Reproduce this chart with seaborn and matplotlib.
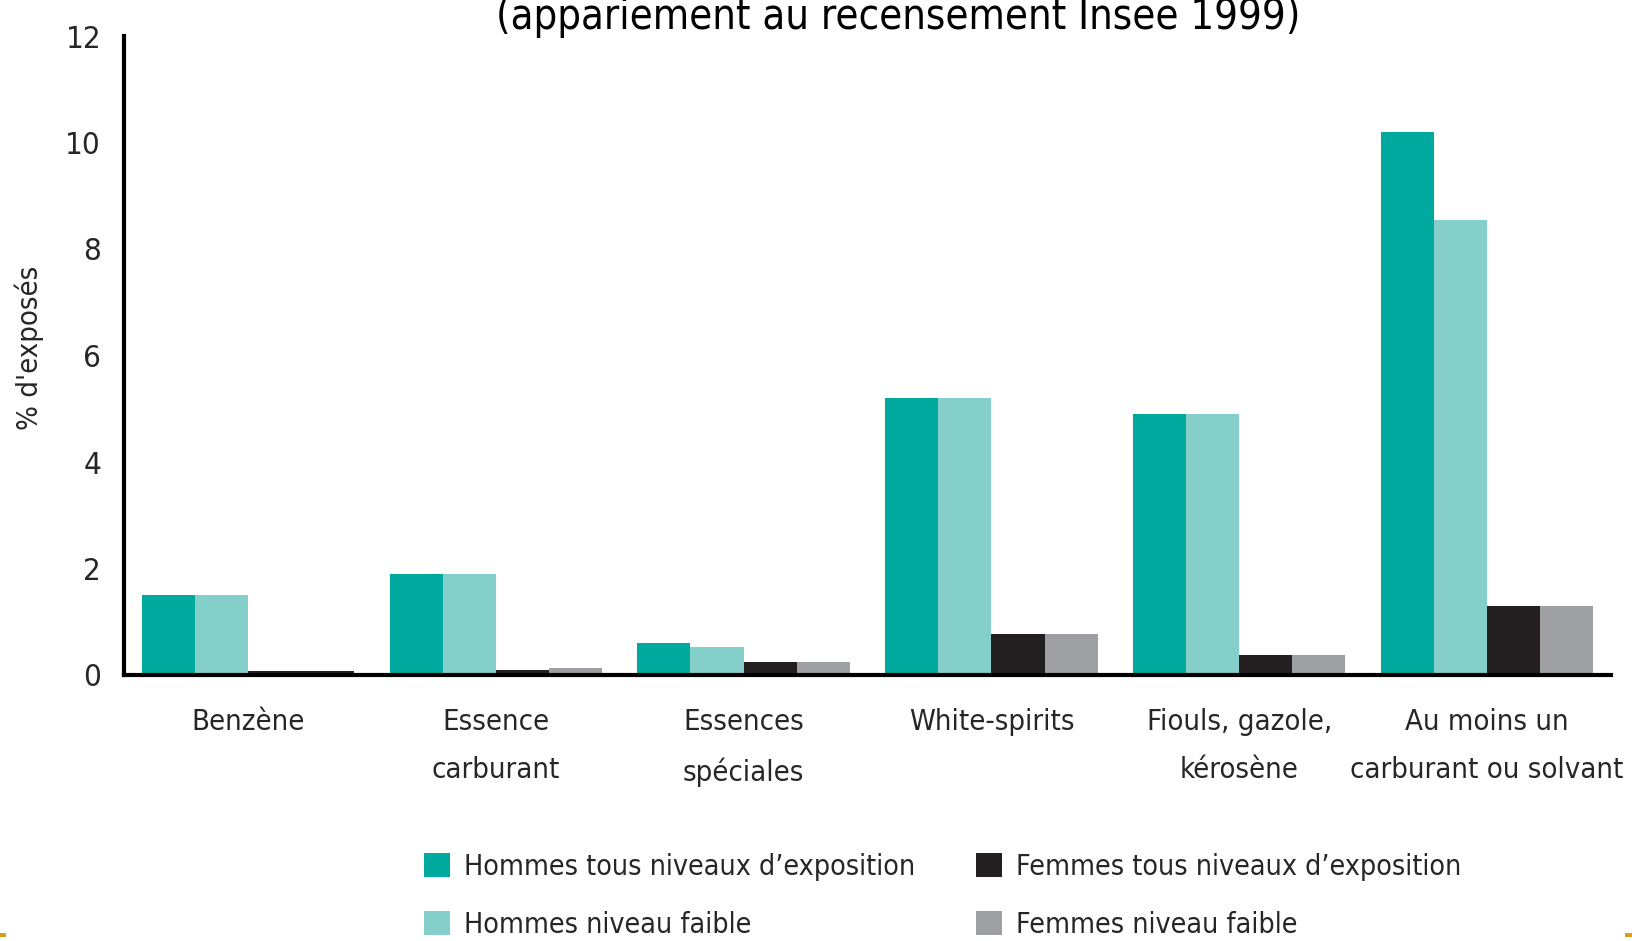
import matplotlib
matplotlib.use("Agg")
import matplotlib.pyplot as plt
import matplotlib.patches as mpatches
from matplotlib import font_manager
import seaborn as sns
import pandas as pd
import numpy as np

categories = ["Benzène", "Essence\ncarburant", "Essences\nspéciales", "White-spirits",
              "Fiouls, gazole,\nkérosène", "Au moins un\ncarburant ou solvant"]
series = ["Hommes tous niveaux d\u2019exposition", "Hommes niveau faible",
          "Femmes tous niveaux d\u2019exposition", "Femmes niveau faible"]
hommes_tous = [1.5, 1.9, 0.6, 5.2, 4.9, 10.2]
hommes_faible = [1.5, 1.9, 0.53, 5.2, 4.9, 8.55]
femmes_tous = [0.08, 0.1, 0.25, 0.77, 0.38, 1.3]
femmes_faible = [0.08, 0.13, 0.25, 0.77, 0.38, 1.3]
yticks = [0, 2, 4, 6, 8, 10, 12]
title = "(appariement au recensement Insee 1999)"
ylabel = "% d'exposés"
colors = ["#00A99D", "#84CFC9", "#231F20", "#9D9FA2"]

sns.set_style("white")

# look for a condensed face
cond_name = None
cond_stretch = "normal"
entries = font_manager.fontManager.ttflist
prefs = ["Liberation Sans Narrow", "DejaVu Sans", "Noto Sans", "Open Sans", "Roboto"]
for pref in prefs:
    for f in entries:
        if f.name == pref and f.style == "normal":
            st = f.stretch
            fn = f.fname.lower()
            if pref == "Liberation Sans Narrow" or "condensed" in fn or "narrow" in fn or \
                    (isinstance(st, int) and st < 500) or st in ("condensed", "semi-condensed",
                                                                  "extra-condensed"):
                cond_name = pref
                cond_stretch = st
                break
    if cond_name:
        break

if cond_name is None:
    cond_name = "DejaVu Sans"
    scale = 0.86
    plt.rcParams["font.stretch"] = "normal"
else:
    scale = 1.0
    plt.rcParams["font.stretch"] = cond_stretch if cond_name != "Liberation Sans Narrow" else "normal"
plt.rcParams["font.family"] = [cond_name, "DejaVu Sans"]

fs = 21 * scale

rows = []
for s, vals in zip(series, [hommes_tous, hommes_faible, femmes_tous, femmes_faible]):
    for c, v in zip(categories, vals):
        rows.append({"cat": c, "series": s, "val": v})
df = pd.DataFrame(rows)

fig = plt.figure(figsize=(16.33, 9.41), dpi=100)
fig.patch.set_facecolor("white")
ax = fig.add_axes([124 / 1633, 1 - 675 / 941, (1611 - 124) / 1633, (675 - 36) / 941])

sns.barplot(data=df, x="cat", y="val", hue="series", order=categories, hue_order=series,
            palette=colors, saturation=1, width=0.857, ax=ax, legend=False, errorbar=None,
            linewidth=0)

# Benzène women bars are both drawn dark in the original
bars = [p for p in ax.patches if isinstance(p, mpatches.Rectangle)]
if len(bars) >= 24:
    bars[18].set_facecolor(colors[2])

ax.set_xlim(-0.5, 5.5)
ax.set_ylim(0, 12)
ax.set_yticks(yticks)
ax.set_yticklabels([str(t) for t in yticks], fontsize=22.5 * scale)
ax.set_xticks(range(len(categories)))
ax.set_xticklabels(categories, fontsize=fs, linespacing=1.9)
ax.set_xticks(np.arange(-0.5, 6, 1), minor=True)
ax.tick_params(axis="x", which="major", length=0, pad=24)
ax.tick_params(axis="x", which="minor", length=9, width=3, direction="out", color="black")
ax.tick_params(axis="y", which="major", length=7.5, width=3, direction="out", color="black", pad=9)
ax.set_xlabel("")
ax.set_ylabel(ylabel, fontsize=fs)
ax.yaxis.set_label_coords((44 - 124) / 1487, (675 - 348) / 639)
for side in ["top", "right"]:
    ax.spines[side].set_visible(False)
for side in ["left", "bottom"]:
    ax.spines[side].set_linewidth(3)
    ax.spines[side].set_color("black")
ax.set_facecolor("none")

fig.text(898 / 1633, 1 - 29 / 941, title, ha="center", va="baseline", fontsize=30 * scale,
         color="black")

handles = [mpatches.Patch(facecolor=c, edgecolor="none") for c in colors]
fig.legend(handles, series, loc="upper left", bbox_to_anchor=(424 / 1633, 1 - 853 / 941), ncol=2,
           frameon=False, fontsize=20.5 * scale, handlelength=0.9, handleheight=0.9,
           handletextpad=0.5, columnspacing=2.15, labelspacing=1.05, borderaxespad=0,
           borderpad=0)

# decorative slide marks
fig.patches.append(mpatches.Rectangle((0, 1 - 937 / 941), 6 / 1633, 4 / 941, transform=fig.transFigure,
                                      facecolor="#D4A017", edgecolor="none"))
fig.patches.append(mpatches.Rectangle((1625 / 1633, 1 - 937 / 941), 8 / 1633, 4 / 941,
                                      transform=fig.transFigure, facecolor="#D4A017", edgecolor="none"))

fig.savefig("out.png", dpi=100)
